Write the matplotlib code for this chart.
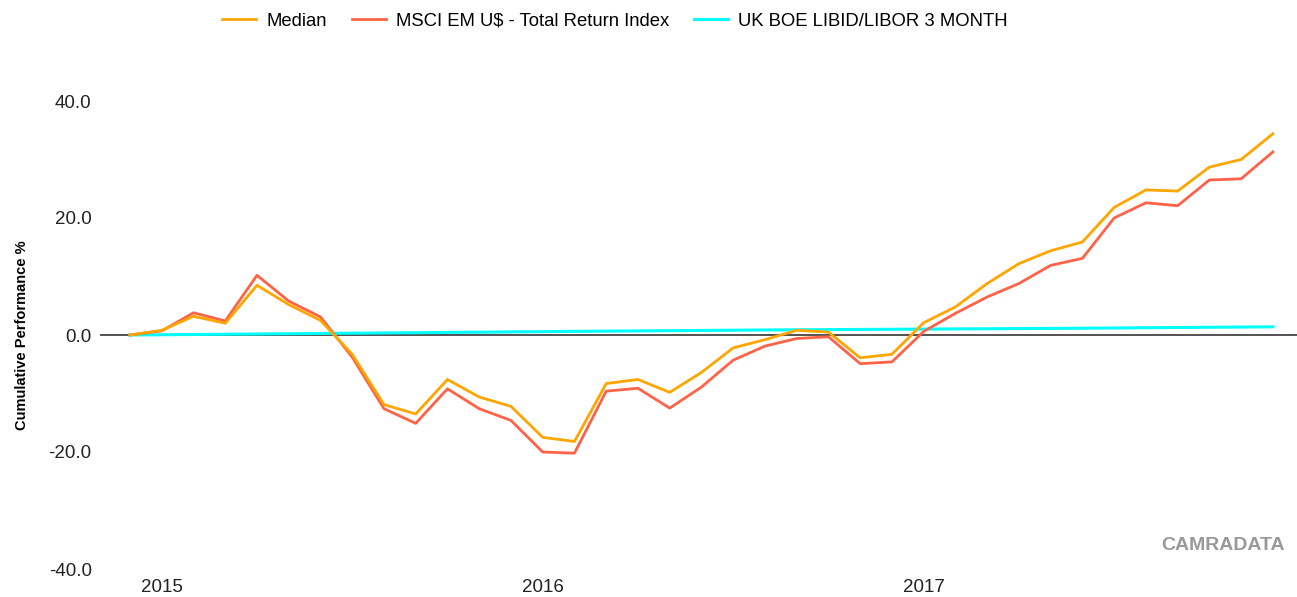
import numpy as np
import matplotlib
matplotlib.use("Agg")
import matplotlib.pyplot as plt

# monthly cumulative performance, Dec 2014 .. Dec 2017
median = [0.0, 0.8, 3.2, 2.0, 8.5, 5.2, 2.5, -3.3, -11.9, -13.5, -7.6, -10.6, -12.2,
          -17.5, -18.2, -8.3, -7.6, -9.8, -6.4, -2.2, -0.8, 0.8, 0.5, -3.9, -3.3,
          2.1, 4.8, 8.8, 12.2, 14.4, 15.9, 21.8, 24.8, 24.6, 28.7, 30.0, 34.4]
msci = [0.0, 0.7, 3.8, 2.4, 10.2, 5.8, 3.1, -3.8, -12.6, -15.1, -9.2, -12.6, -14.6,
        -20.0, -20.2, -9.6, -9.1, -12.5, -8.9, -4.3, -1.9, -0.6, -0.3, -4.9, -4.6,
        0.6, 3.7, 6.5, 8.8, 11.9, 13.1, 20.0, 22.6, 22.1, 26.5, 26.7, 31.3]
libor = [0.0, 0.04, 0.09, 0.13, 0.17, 0.22, 0.26, 0.31, 0.35, 0.39, 0.44, 0.48, 0.53,
         0.57, 0.62, 0.66, 0.70, 0.74, 0.78, 0.82, 0.86, 0.89, 0.92, 0.95, 0.98,
         1.01, 1.04, 1.07, 1.10, 1.13, 1.16, 1.20, 1.24, 1.28, 1.32, 1.36, 1.40]
year_pos = [1, 13, 25]
year_labels = ["2015", "2016", "2017"]

plt.rcParams["font.family"] = ["Liberation Sans", "DejaVu Sans"]

x = np.arange(len(median))

fig = plt.figure(figsize=(12.97, 5.97), dpi=100)
ax = fig.add_axes([100 / 1297, 1 - 569 / 597, 1197 / 1297, 468 / 597])

ax.axhline(0, color="#444444", lw=1.3, zorder=1)
ax.plot(x, libor, color="#00FFFF", lw=2.2, label="UK BOE LIBID/LIBOR 3 MONTH", zorder=2)
ax.plot(x, msci, color="#FF6347", lw=2.0, label="MSCI EM U$ - Total Return Index", zorder=3)
ax.plot(x, median, color="#FFA500", lw=2.0, label="Median", zorder=4)

ax.set_xlim(-0.945, 36.76)
ax.set_ylim(-40, 40)
ax.set_yticks([-40, -20, 0, 20, 40])
ax.set_yticklabels(["%.1f" % v for v in [-40, -20, 0, 20, 40]])
ax.set_xticks(year_pos)
ax.set_xticklabels(year_labels)
ax.tick_params(axis="both", length=0, labelsize=13.5, colors="#222222")
ax.tick_params(axis="y", pad=6)
ax.tick_params(axis="x", pad=7)
for s in ax.spines.values():
    s.set_visible(False)

ax.set_ylabel("Cumulative Performance %", fontsize=10.5, fontweight="bold")
ax.yaxis.set_label_coords(-0.059, 0.5)

handles, labels = ax.get_legend_handles_labels()
order = [2, 1, 0]
fig.legend([handles[i] for i in order], [labels[i] for i in order],
           loc="center", bbox_to_anchor=(615 / 1297, 1 - 21 / 597), ncol=3,
           frameon=False, fontsize=13.3, handlelength=1.84, handletextpad=0.54,
           columnspacing=1.35)

fig.text(1285 / 1297, 1 - 545.5 / 597, "CAMRADATA", ha="right", va="center",
         fontsize=14, fontweight="bold", color="#999999")

fig.savefig("out.png", dpi=100)
